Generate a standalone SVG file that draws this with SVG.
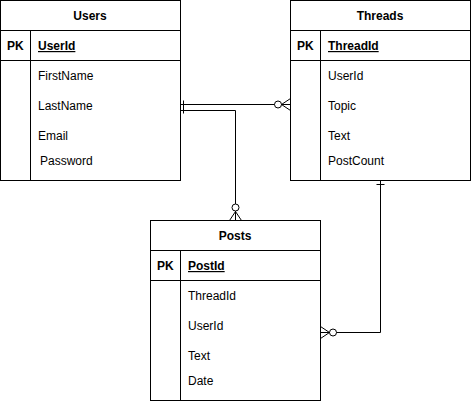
<svg xmlns="http://www.w3.org/2000/svg" width="471" height="401" viewBox="0 0 471 401">
<style>
.box{fill:#fff;stroke:#000;stroke-width:1}
.ln{fill:none;stroke:#000;stroke-width:1}
text{font-family:"Liberation Sans",Arial,sans-serif;font-size:12px;fill:#000}
.t{font-weight:bold;text-anchor:middle}
.pk{font-weight:bold}
.u{font-weight:bold;text-decoration:underline}
</style>
<rect x="0" y="0" width="471" height="401" fill="#fff"/>
<g id="connectors">
  <path class="ln" d="M180.5 104.5 H290.5"/>
  <path class="ln" d="M180.5 110.5 H235.5 V220.5"/>
  <path class="ln" d="M380.5 180.5 V332.5 H320.5"/>
  <!-- mandatory one bar at Users -->
  <path class="ln" d="M183.5 100.5 V113.5"/>
  <!-- zero-to-many at Threads -->
  <circle class="ln" cx="278" cy="104.5" r="3.5" style="fill:#fff"/>
  <path class="ln" d="M290.5 98.5 L281.5 104.5 L290.5 110.5"/>
  <!-- zero-to-many at Posts top -->
  <circle class="ln" cx="235.5" cy="207.5" r="3.5" style="fill:#fff"/>
  <path class="ln" d="M229.5 220.5 L235.5 211.5 L241.5 220.5"/>
  <!-- one at Threads bottom -->
  <path class="ln" d="M376.5 184.5 H384.5"/>
  <!-- zero-to-many at Posts right -->
  <circle class="ln" cx="333" cy="332.5" r="3.5" style="fill:#fff"/>
  <path class="ln" d="M320.5 326.5 L329.5 332.5 L320.5 338.5"/>
</g>
<g id="users">
  <rect class="box" x="0.5" y="0.5" width="180" height="180"/>
  <path class="ln" d="M0.5 30.5 H180.5 M0.5 60.5 H180.5 M30.5 30.5 V180.5"/>
  <text class="t" x="90" y="20">Users</text>
  <text class="pk" x="7" y="50">PK</text>
  <text class="u" x="38" y="50">UserId</text>
  <text x="38" y="80">FirstName</text>
  <text x="38" y="110">LastName</text>
  <text x="38" y="140">Email</text>
  <text x="40" y="165">Password</text>
</g>
<g id="threads">
  <rect class="box" x="290.5" y="0.5" width="180" height="180"/>
  <path class="ln" d="M290.5 30.5 H470.5 M290.5 60.5 H470.5 M320.5 30.5 V180.5"/>
  <text class="t" x="380" y="20">Threads</text>
  <text class="pk" x="297" y="50">PK</text>
  <text class="u" x="328" y="50">ThreadId</text>
  <text x="328" y="80">UserId</text>
  <text x="328" y="110">Topic</text>
  <text x="328" y="140">Text</text>
  <text x="328" y="165">PostCount</text>
</g>
<g id="posts">
  <rect class="box" x="150.5" y="220.5" width="170" height="180"/>
  <path class="ln" d="M150.5 250.5 H320.5 M150.5 280.5 H320.5 M180.5 250.5 V400.5"/>
  <text class="t" x="235" y="240">Posts</text>
  <text class="pk" x="157" y="270">PK</text>
  <text class="u" x="188" y="270">PostId</text>
  <text x="188" y="300">ThreadId</text>
  <text x="188" y="330">UserId</text>
  <text x="188" y="360">Text</text>
  <text x="188" y="385">Date</text>
</g>
</svg>
